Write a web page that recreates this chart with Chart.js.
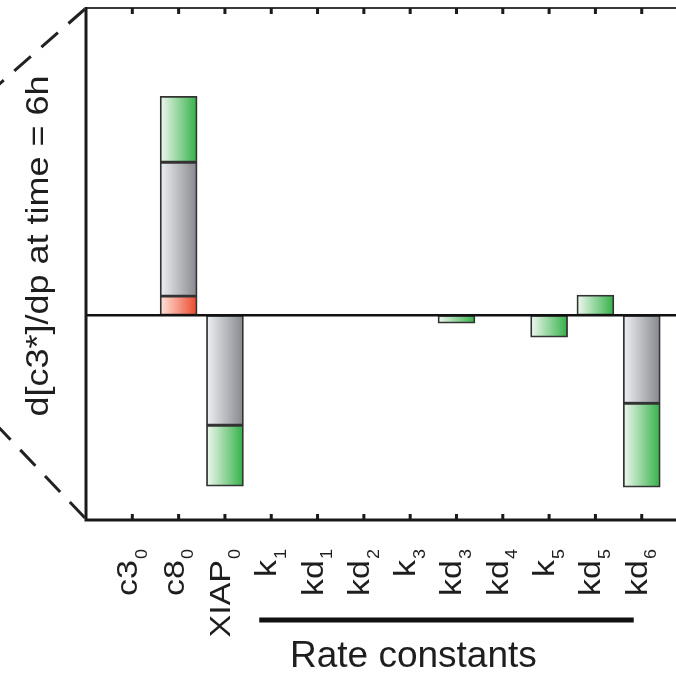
<!DOCTYPE html>
<html>
<head>
<meta charset="utf-8">
<script src="https://cdn.jsdelivr.net/npm/chart.js@4/dist/chart.umd.min.js"></script>
<style>
  html, body { margin: 0; padding: 0; background: #fff; overflow: hidden; }
  #wrap { width: 676px; height: 673px; }
</style>
</head>
<body>
<div id="wrap"><canvas id="sens" width="676" height="673"></canvas></div>
<script>
// parameter names and their subscripts
const categories = ['c3', 'c8', 'XIAP', 'k', 'kd', 'kd', 'k', 'kd', 'kd', 'k', 'kd', 'kd'];
const subscripts = ['0', '0', '0', '1', '1', '2', '3', '3', '4', '5', '5', '6'];

// stacked contributions (arbitrary units)
const redPart   = [null, 0.093, null, null, null, null, null, null, null, null, null, null];
const grayPart  = [null, 0.654, -0.537, null, null, null, null, null, null, null, null, -0.43];
const greenPart = [null, 0.322, -0.298, null, null, null, null, -0.039, null, -0.107, 0.098, -0.41];

const yTitle = 'd[c3*]/dp at time = 6h';
const groupTitle = 'Rate constants';

const FONT = '"Liberation Sans", Arial, Helvetica, sans-serif';

// horizontal gradient across each bar, light on the left
function barGradient(light, dark) {
    return function(c) {
        const chart = c.chart;
        const xs = chart.scales.x;
        if (!xs || c.type !== 'data' || !c.raw) return dark;
        const cx = xs.getPixelForValue(c.raw.x);
        if (!Number.isFinite(cx)) return dark;
        const g = chart.ctx.createLinearGradient(cx - 18, 0, cx + 18, 0);
        g.addColorStop(0, light);
        g.addColorStop(1, dark);
        return g;
    };
}

function toPoints(arr) {
    return arr.map((v, i) => ({ x: i + 1, y: v }));
}

// frame, inward ticks, zero line, labels, zoom lines
const decorations = {
    id: 'decorations',
    afterDatasetsDraw(chart) {
        const ctx = chart.ctx;
        const a = chart.chartArea;
        const xs = chart.scales.x;
        const ys = chart.scales.y;
        const y0 = ys.getPixelForValue(0);

        ctx.save();
        ctx.strokeStyle = '#111';
        ctx.lineWidth = 2.5;
        ctx.beginPath();
        ctx.moveTo(a.left, y0);
        ctx.lineTo(a.right, y0);
        ctx.stroke();

        // frame
        ctx.strokeStyle = '#3a3a3a';
        ctx.lineWidth = 2;
        ctx.beginPath();
        ctx.moveTo(a.left, a.top);
        ctx.lineTo(a.right, a.top);
        ctx.stroke();
        ctx.strokeStyle = '#1a1a1a';
        ctx.lineWidth = 3;
        ctx.beginPath();
        ctx.moveTo(a.left, a.top - 1);
        ctx.lineTo(a.left, a.bottom);
        ctx.lineTo(a.right, a.bottom);
        ctx.stroke();

        // inward ticks
        ctx.lineWidth = 3;
        categories.forEach((c, i) => {
            const px = xs.getPixelForValue(i + 1);
            ctx.beginPath();
            ctx.moveTo(px, a.top);
            ctx.lineTo(px, a.top + 6);
            ctx.moveTo(px, a.bottom);
            ctx.lineTo(px, a.bottom - 6);
            ctx.stroke();
        });

        // dashed zoom lines to the left
        ctx.setLineDash([22, 14]);
        ctx.lineWidth = 3;
        ctx.strokeStyle = '#222';
        ctx.beginPath();
        ctx.moveTo(a.left - 1, a.top + 1);
        ctx.lineTo(-12, a.top + 86);
        ctx.moveTo(a.left - 1, a.bottom - 2);
        ctx.lineTo(-12, a.bottom - 104);
        ctx.stroke();
        ctx.setLineDash([]);

        // category labels, rotated, with subscripts
        ctx.fillStyle = '#1e1e1e';
        categories.forEach((name, i) => {
            const px = xs.getPixelForValue(i + 1);
            ctx.save();
            ctx.translate(px + 5, a.bottom + 40);
            ctx.rotate(-Math.PI / 2);
            ctx.scale(1, 0.88);
            ctx.textBaseline = 'alphabetic';
            ctx.textAlign = 'right';
            ctx.font = '34px ' + FONT;
            ctx.fillText(name, 0, 0);
            ctx.textAlign = 'left';
            ctx.font = '18px ' + FONT;
            ctx.fillText(subscripts[i], 1, 11);
            ctx.restore();
        });

        // y title
        ctx.save();
        ctx.translate(48, 246);
        ctx.rotate(-Math.PI / 2);
        ctx.scale(1, 0.88);
        ctx.textAlign = 'center';
        ctx.textBaseline = 'alphabetic';
        ctx.font = '36px ' + FONT;
        ctx.fillText(yTitle, 0, 0);
        ctx.restore();

        // group bar and title under the rate constants
        const x1 = xs.getPixelForValue(4) - 12;
        const x2 = xs.getPixelForValue(12) - 8;
        ctx.strokeStyle = '#111';
        ctx.lineWidth = 5;
        ctx.beginPath();
        ctx.moveTo(x1, 620);
        ctx.lineTo(x2, 620);
        ctx.stroke();
        ctx.font = '37px ' + FONT;
        ctx.textAlign = 'left';
        ctx.fillText(groupTitle, 290, 667);
        ctx.restore();
    }
};

const ctx1 = document.getElementById('sens').getContext('2d');
const sensChart = new Chart(ctx1, {
    type: 'bar',
    data: {
        datasets: [{
            label: 'red',
            data: toPoints(redPart),
            backgroundColor: barGradient('#fde3da', '#ec4a2e')
        }, {
            label: 'gray',
            data: toPoints(grayPart),
            backgroundColor: barGradient('#eeeff2', '#88898e')
        }, {
            label: 'green',
            data: toPoints(greenPart),
            backgroundColor: barGradient('#eef7ee', '#36b24a')
        }]
    },
    options: {
        responsive: false,
        animation: false,
        devicePixelRatio: 1,
        layout: { padding: { left: 86, top: 8, right: 0, bottom: 153 } },
        datasets: {
            bar: {
                barThickness: 37,
                borderColor: '#333',
                borderWidth: 1.8,
                borderSkipped: false
            }
        },
        scales: {
            x: { type: 'linear', min: 0, max: 12.74, offset: false, stacked: true, display: false },
            y: { type: 'linear', min: -1, max: 1.5, stacked: true, display: false }
        },
        plugins: {
            legend: { display: false },
            tooltip: { enabled: false }
        }
    },
    plugins: [decorations]
});
</script>
</body>
</html>
